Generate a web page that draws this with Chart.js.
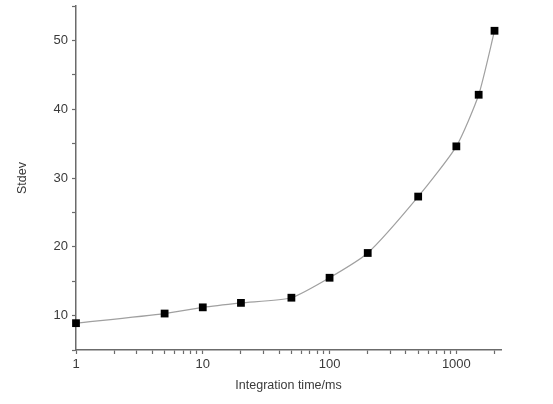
<!DOCTYPE html>
<html>
<head>
<meta charset="utf-8">
<script src="https://cdn.jsdelivr.net/npm/chart.js@4/dist/chart.umd.min.js"></script>
<style>
  html, body { margin: 0; padding: 0; background: #fff; }
  #wrap { width: 553px; height: 404px; }
</style>
</head>
<body>
<div id="wrap"><canvas id="chart" width="553" height="404"></canvas></div>
<script>
// données
const integrationTimes = [1, 5, 10, 20, 50, 100, 200, 500, 1000, 1500, 2000];
const stdevValues = [8.9, 10.3, 11.2, 11.85, 12.6, 15.5, 19.1, 27.3, 34.6, 42.1, 51.4];
const xTickValues = [1, 2, 3, 4, 5, 6, 7, 8, 9, 10, 20, 30, 40, 50, 60, 70, 80, 90,
  100, 200, 300, 400, 500, 600, 700, 800, 900, 1000, 2000];
const xTickLabels = ['1', '10', '100', '1000'];
const yTickLabels = ['10', '20', '30', '40', '50'];

const axisColor = '#6b6b6b';
const textColor = '#3a3a3a';

const points = integrationTimes.map((t, i) => ({ x: t, y: stdevValues[i] }));

new Chart(document.getElementById('chart').getContext('2d'), {
  type: 'line',
  data: {
    datasets: [{
      data: points,
      borderColor: '#a0a0a0',
      borderWidth: 1.2,
      tension: 0.2,
      pointStyle: 'rect',
      pointRadius: 5.5,
      pointBackgroundColor: '#000',
      pointBorderColor: '#000',
      pointBorderWidth: 0,
      clip: false
    }]
  },
  options: {
    responsive: false,
    animation: false,
    layout: { padding: { left: 0, right: 52, top: 6, bottom: 0 } },
    plugins: { legend: { display: false }, tooltip: { enabled: false } },
    scales: {
      x: {
        type: 'logarithmic',
        min: 1,
        max: 2250,
        afterBuildTicks: function(scale) {
          scale.ticks = xTickValues.map(v => ({ value: v }));
        },
        afterFit: function(scale) {
          scale.height = 54;
          scale.paddingLeft = 0;
          scale.paddingRight = 0;
        },
        border: { color: axisColor, width: 1.5 },
        grid: {
          drawOnChartArea: false,
          drawTicks: true,
          tickLength: 4,
          tickColor: axisColor,
          tickWidth: 1.2
        },
        ticks: {
          autoSkip: false,
          maxRotation: 0,
          padding: 3,
          color: textColor,
          font: { family: 'Liberation Sans, Arial, sans-serif', size: 13 },
          callback: function(value) {
            const s = String(value);
            return xTickLabels.includes(s) ? s : '';
          }
        },
        title: {
          display: true,
          text: 'Integration time/ms',
          color: textColor,
          font: { family: 'Liberation Sans, Arial, sans-serif', size: 12.5 },
          padding: { top: 4, bottom: 11 }
        }
      },
      y: {
        min: 5,
        max: 55,
        afterFit: function(scale) {
          scale.width = 76;
          scale.paddingTop = 0;
          scale.paddingBottom = 0;
        },
        border: { color: axisColor, width: 1.5 },
        grid: {
          drawOnChartArea: false,
          drawTicks: true,
          tickLength: 4,
          tickColor: axisColor,
          tickWidth: 1.2
        },
        ticks: {
          stepSize: 5,
          padding: 4,
          color: textColor,
          font: { family: 'Liberation Sans, Arial, sans-serif', size: 13 },
          callback: function(value) {
            const s = String(value);
            return yTickLabels.includes(s) ? s : '';
          }
        },
        title: {
          display: true,
          text: 'Stdev',
          color: textColor,
          font: { family: 'Liberation Sans, Arial, sans-serif', size: 12.5 },
          padding: { top: 15, bottom: 0 }
        }
      }
    }
  }
});
</script>
</body>
</html>
